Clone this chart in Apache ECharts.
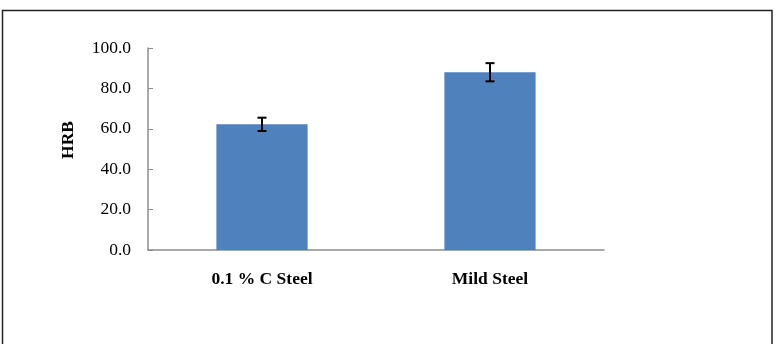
<!DOCTYPE html>
<html>
<head>
<meta charset="utf-8">
<script src="https://cdn.jsdelivr.net/npm/echarts@6/dist/echarts.min.js"></script>
<style>
  html, body { margin: 0; padding: 0; background: #fff; }
  #main { width: 776px; height: 344px; }
</style>
</head>
<body>
<div id="main"></div>
<script>
// 数据
var categories = ["0.1 % C Steel", "Mild Steel"];
var hrbValues = [62.2, 88.0];
var hrbErrors = [3.3, 4.5];
var yTicks = [0, 20, 40, 60, 80, 100];

var myChart = echarts.init(document.getElementById("main"));

var errorData = categories.map(function (c, i) {
  return [i, hrbValues[i] - hrbErrors[i], hrbValues[i] + hrbErrors[i]];
});

var option = {
  animation: false,
  backgroundColor: "#fff",
  textStyle: { fontFamily: "Liberation Serif" },
  grid: { left: 148, right: 172, top: 48, bottom: 94 },
  // 外框
  graphic: [
    {
      type: "rect",
      shape: { x: 2.5, y: 10.5, width: 769.5, height: 345 },
      style: { fill: "none", stroke: "#222", lineWidth: 1.5 },
      silent: true,
    },
  ],
  xAxis: {
    type: "category",
    data: categories,
    axisTick: { show: false },
    axisLine: { lineStyle: { color: "#8c8c8c", width: 1.5 } },
    axisLabel: {
      color: "#000",
      fontWeight: "bold",
      fontSize: 17.5,
      margin: 20,
      fontFamily: "Liberation Serif",
    },
  },
  yAxis: {
    type: "value",
    min: yTicks[0],
    max: yTicks[yTicks.length - 1],
    interval: yTicks[1] - yTicks[0],
    name: "HRB",
    nameLocation: "middle",
    nameGap: 71,
    nameRotate: 90,
    nameTextStyle: {
      color: "#000",
      fontWeight: "bold",
      fontSize: 17.5,
      fontFamily: "Liberation Serif",
      padding: [0, 0, 0, 18],
    },
    axisLine: { show: true, lineStyle: { color: "#8c8c8c", width: 1.5 } },
    axisTick: { show: true, inside: true, length: 5, lineStyle: { color: "#8c8c8c" } },
    splitLine: { show: false },
    axisLabel: {
      color: "#000",
      fontSize: 17.5,
      margin: 17,
      fontFamily: "Liberation Serif",
      formatter: function (v) { return v.toFixed(1); },
    },
  },
  series: [
    {
      name: "HRB",
      type: "bar",
      data: hrbValues,
      barWidth: "40%",
      itemStyle: { color: "#4f81bd" },
    },
    {
      name: "误差",
      type: "custom",
      data: errorData,
      z: 10,
      renderItem: function (params, api) {
        var lo = api.coord([api.value(0), api.value(1)]);
        var hi = api.coord([api.value(0), api.value(2)]);
        var half = 4.5;
        var style = { stroke: "#000", lineWidth: 2 };
        return {
          type: "group",
          children: [
            { type: "line", shape: { x1: hi[0], y1: hi[1], x2: lo[0], y2: lo[1] }, style: style },
            { type: "line", shape: { x1: hi[0] - half, y1: hi[1], x2: hi[0] + half, y2: hi[1] }, style: style },
            { type: "line", shape: { x1: lo[0] - half, y1: lo[1], x2: lo[0] + half, y2: lo[1] }, style: style },
          ],
        };
      },
    },
  ],
};

myChart.setOption(option, true);
</script>
</body>
</html>
